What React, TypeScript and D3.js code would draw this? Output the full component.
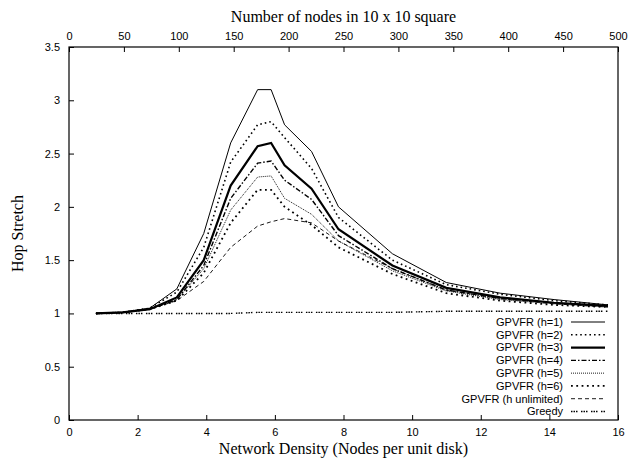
import * as React from "react";
import * as d3 from "d3";

// network density (nodes per unit disk) of each sample
const density = [0.785, 1.571, 2.356, 3.142, 3.927, 4.712, 5.498, 5.89, 6.283, 7.069, 7.854, 9.425, 10.996, 12.566, 14.137, 15.708];

const h1 = [1.0, 1.01, 1.05, 1.23, 1.75, 2.6, 3.1, 3.1, 2.77, 2.52, 2.0, 1.56, 1.29, 1.19, 1.13, 1.08];
const h2 = [1.0, 1.01, 1.05, 1.2, 1.62, 2.42, 2.77, 2.8, 2.65, 2.36, 1.9, 1.5, 1.27, 1.18, 1.12, 1.08];
const h3 = [1.0, 1.01, 1.04, 1.15, 1.5, 2.2, 2.57, 2.6, 2.39, 2.17, 1.79, 1.45, 1.24, 1.15, 1.1, 1.07];
const h4 = [1.0, 1.01, 1.04, 1.13, 1.45, 2.08, 2.41, 2.43, 2.25, 2.07, 1.73, 1.42, 1.22, 1.14, 1.1, 1.07];
const h5 = [1.0, 1.01, 1.04, 1.13, 1.42, 1.97, 2.28, 2.29, 2.08, 1.93, 1.68, 1.4, 1.21, 1.13, 1.09, 1.06];
const h6 = [1.0, 1.01, 1.04, 1.12, 1.38, 1.85, 2.16, 2.16, 2.0, 1.83, 1.62, 1.37, 1.19, 1.12, 1.08, 1.06];
const hUnlimited = [1.0, 1.01, 1.04, 1.12, 1.3, 1.62, 1.82, 1.86, 1.89, 1.85, 1.68, 1.42, 1.22, 1.14, 1.09, 1.06];
const greedy = [1.0, 1.0, 1.0, 1.0, 1.0, 1.0, 1.01, 1.01, 1.01, 1.01, 1.01, 1.01, 1.02, 1.02, 1.02, 1.02];

const seriesNames = ["GPVFR (h=1)", "GPVFR (h=2)", "GPVFR (h=3)", "GPVFR (h=4)", "GPVFR (h=5)", "GPVFR (h=6)", "GPVFR (h unlimited)", "Greedy"];
const seriesValues = [h1, h2, h3, h4, h5, h6, hUnlimited, greedy];

const xTicks = [0, 2, 4, 6, 8, 10, 12, 14, 16];
const x2Ticks = [0, 50, 100, 150, 200, 250, 300, 350, 400, 450, 500];
const yTicks = [0, 0.5, 1, 1.5, 2, 2.5, 3, 3.5];

// line looks, same order as the series
const styles = [
  { w: 1, dash: "" },
  { w: 1.6, dash: "1.6,3" },
  { w: 2.2, dash: "" },
  { w: 1.4, dash: "5,2,1.5,2" },
  { w: 0.9, dash: "1,1" },
  { w: 1.8, dash: "1.8,3.5" },
  { w: 0.9, dash: "4,3" },
  { w: 1.4, dash: "1.5,1,1.5,1,1.5,3.5" },
];

export default function App() {
  const ref = React.useRef<SVGSVGElement>(null);

  React.useEffect(() => {
    const svg = d3.select(ref.current);
    svg.selectAll("*").remove();

    const left = 69, right = 618, top = 47, bottom = 420;
    const x = d3.scaleLinear().domain([0, 16]).range([left, right]);
    const x2 = d3.scaleLinear().domain([0, 500]).range([left, right]);
    const y = d3.scaleLinear().domain([0, 3.5]).range([bottom, top]);

    const sans = "'Liberation Sans', Arial, sans-serif";
    const serif = "'Liberation Serif', 'Times New Roman', serif";

    // bottom axis
    const gx = svg.append("g").attr("transform", `translate(0,${bottom})`)
      .call(d3.axisBottom(x).tickValues(xTicks).tickFormat(d3.format("d")).tickSizeInner(-5).tickSizeOuter(0).tickPadding(8));
    gx.select(".domain").remove();
    gx.selectAll("text").attr("font-family", sans).attr("font-size", 11).attr("fill", "#000");

    // top axis
    const gx2 = svg.append("g").attr("transform", `translate(0,${top})`)
      .call(d3.axisTop(x2).tickValues(x2Ticks).tickFormat(d3.format("d")).tickSizeInner(-5).tickSizeOuter(0).tickPadding(7));
    gx2.select(".domain").remove();
    gx2.selectAll("text").attr("font-family", sans).attr("font-size", 11).attr("fill", "#000");

    // left axis
    const gy = svg.append("g").attr("transform", `translate(${left},0)`)
      .call(d3.axisLeft(y).tickValues(yTicks).tickFormat(d3.format("")).tickSizeInner(-5).tickSizeOuter(0).tickPadding(9));
    gy.select(".domain").remove();
    gy.selectAll("text").attr("font-family", sans).attr("font-size", 11).attr("fill", "#000");

    svg.append("rect")
      .attr("x", left).attr("y", top)
      .attr("width", right - left).attr("height", bottom - top)
      .attr("fill", "none").attr("stroke", "#000").attr("stroke-width", 1.2);

    const line = d3.line<number>()
      .x((d, i) => x(density[i]))
      .y((d) => y(d));

    seriesValues.forEach((vals, k) => {
      svg.append("path")
        .attr("d", line(vals))
        .attr("fill", "none")
        .attr("stroke", "#000")
        .attr("stroke-width", styles[k].w)
        .attr("stroke-dasharray", styles[k].dash || null);
    });

    // legend
    const legY = d3.scaleLinear().domain([0, 7]).range([322, 411.5]);
    seriesNames.forEach((name, k) => {
      svg.append("text")
        .attr("x", 563).attr("y", legY(k)).attr("dy", "0.35em")
        .attr("text-anchor", "end")
        .attr("font-family", sans).attr("font-size", 11)
        .text(name);
      svg.append("line")
        .attr("x1", 571).attr("x2", 605)
        .attr("y1", legY(k)).attr("y2", legY(k))
        .attr("stroke", "#000")
        .attr("stroke-width", styles[k].w)
        .attr("stroke-dasharray", styles[k].dash || null);
    });

    // titles
    svg.append("text")
      .attr("x", (left + right) / 2).attr("y", 454)
      .attr("text-anchor", "middle")
      .attr("font-family", serif).attr("font-size", 16)
      .text("Network Density (Nodes per unit disk)");
    svg.append("text")
      .attr("x", (left + right) / 2).attr("y", 22)
      .attr("text-anchor", "middle")
      .attr("font-family", serif).attr("font-size", 16)
      .text("Number of nodes in 10 x 10 square");
    svg.append("text")
      .attr("transform", `translate(23,${(top + bottom) / 2}) rotate(-90)`)
      .attr("text-anchor", "middle")
      .attr("font-family", serif).attr("font-size", 16)
      .text("Hop Stretch");
  }, []);

  return (
    <svg ref={ref} width={628} height={462}
      style={{ position: "absolute", left: 0, top: 0, background: "#fff" }} />
  );
}
